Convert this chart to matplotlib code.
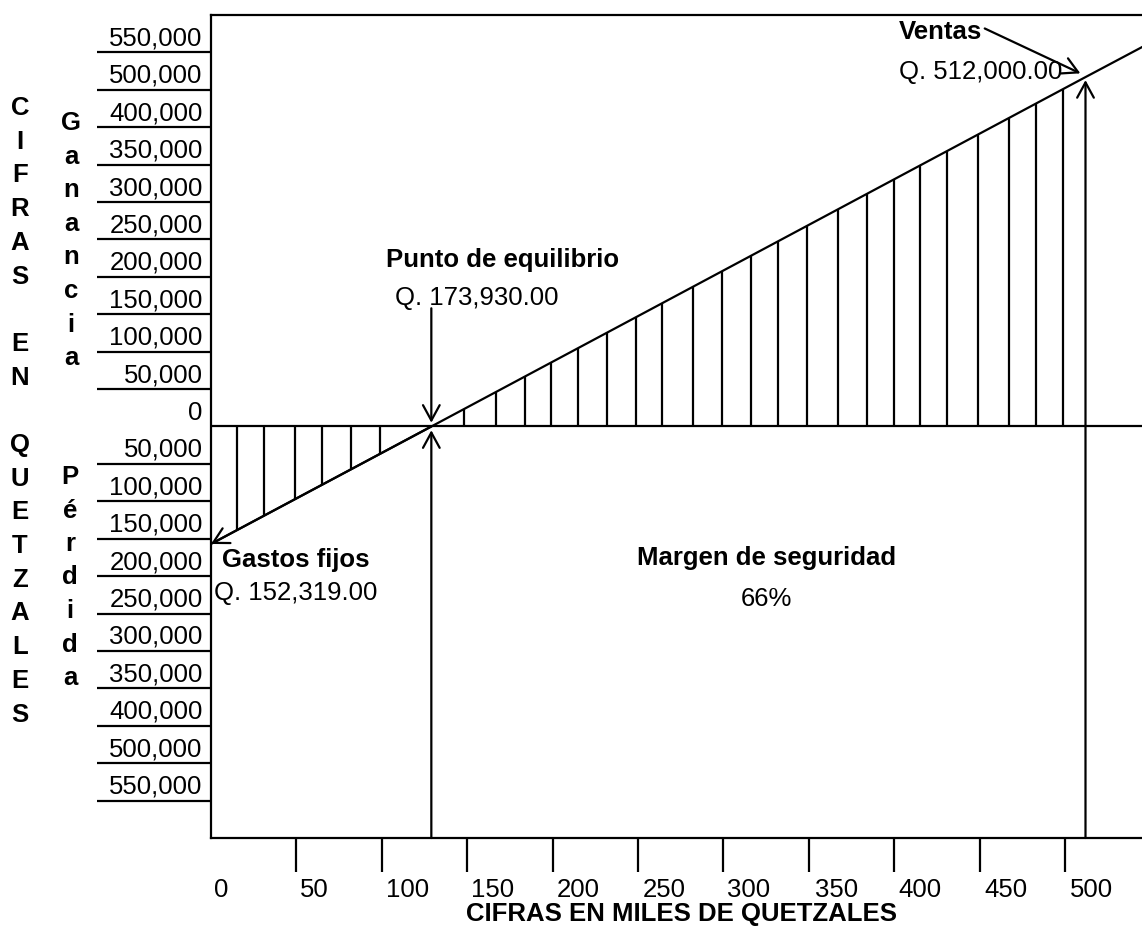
import matplotlib.pyplot as plt
import numpy as np

plt.rcParams['font.family'] = ['Liberation Sans', 'DejaVu Sans']

W, H = 1142, 932

# sales / result line (x in miles de quetzales as drawn, y in miles)
line_x = [0, 129, 512, 545]
line_y = [-157, 0, 467, 507]
punto_x = 129
ventas_x = 512

# vertical hatch positions
perdida_hatch = [15, 31, 49, 65, 82, 99]
ganancia_hatch = [148, 167, 184, 199, 215, 232, 249, 264, 282, 299, 316,
                  332, 349, 367, 384, 400, 415, 431, 449, 467, 483, 499]

x_ticks = [50, 100, 150, 200, 250, 300, 350, 400, 450, 500]
x_labels = ['0', '50', '100', '150', '200', '250', '300', '350', '400', '450', '500']
x_label_pos = [6, 60.5, 115, 165, 215, 265.5, 315, 366, 415, 465.5, 515.5]

y_lines = [-500, -450, -400, -350, -300, -250, -200, -150, -100, -50,
           50, 100, 150, 200, 250, 300, 350, 400, 450, 500]
y_up_pos = [25, 75, 125, 175, 225, 275, 325, 375, 425, 475, 525]
y_up_labels = ['0', '50,000', '100,000', '150,000', '200,000', '250,000',
               '300,000', '350,000', '400,000', '500,000', '550,000']
y_down_pos = [-25, -75, -125, -175, -225, -275, -325, -375, -425, -475]
y_down_labels = ['50,000', '100,000', '150,000', '200,000', '250,000',
                 '300,000', '350,000', '400,000', '500,000', '550,000']

FS = 18.5
LW = 1.6

fig = plt.figure(figsize=(W / 100, H / 100), dpi=100)
left = 211 / W
ax = fig.add_axes([left, 1 - 838 / H, 1 - left, (838 - 15) / H])
ax.set_xlim(0, (W - 211) / 1.708)
ax.set_ylim(-550, 550)
for s in ['left', 'top', 'bottom']:
    ax.spines[s].set_linewidth(LW)
ax.spines['right'].set_visible(False)

# x ticks: long marks as minor ticks, labels as major ticks
ax.set_xticks(x_ticks, minor=True)
ax.set_xticks(x_label_pos, x_labels)
ax.tick_params(axis='x', which='minor', length=24.5, width=LW, direction='out')
ax.tick_params(axis='x', which='major', length=0, pad=29, labelsize=FS)

y_pos = [p - 3 for p in y_up_pos + y_down_pos]
ax.set_yticks(y_lines, minor=True)
ax.set_yticks(y_pos, y_up_labels + y_down_labels)
ax.tick_params(axis='y', which='minor', length=82, width=LW, direction='out')
ax.tick_params(axis='y', which='major', length=0, pad=6, labelsize=FS)

ax.axhline(0, color='black', lw=LW)

# main line with arrow at gastos fijos end
ax.plot(line_x, line_y, color='black', lw=LW)
arrow = dict(arrowstyle='->,head_length=0.55,head_width=0.3', lw=LW,
             color='black', shrinkA=0, shrinkB=0, mutation_scale=20)
ax.annotate('', xy=(line_x[0], line_y[0]), xytext=(line_x[1], line_y[1]),
            arrowprops=arrow, annotation_clip=False)

# hatching
top_p = np.interp(perdida_hatch, line_x, line_y)
ax.vlines(perdida_hatch, top_p, 0, color='black', lw=LW)
top_g = np.interp(ganancia_hatch, line_x, line_y)
ax.vlines(ganancia_hatch, 0, top_g, color='black', lw=LW)

# punto de equilibrio
ax.annotate('', xy=(punto_x, 5), xytext=(punto_x, 158), arrowprops=arrow)
ax.annotate('', xy=(punto_x, -5), xytext=(punto_x, -550), arrowprops=arrow)
ax.text(102.5, 223, 'Punto de equilibrio', fontsize=FS, fontweight='bold',
        ha='left', va='center')
ax.text(108, 172, 'Q. 173,930.00', fontsize=FS, ha='left', va='center')

# ventas
v_y = np.interp(ventas_x, line_x, line_y)
ax.annotate('', xy=(ventas_x, v_y - 4), xytext=(ventas_x, -550), arrowprops=arrow)
ax.annotate('', xy=(509, 472), xytext=(453, 532), arrowprops=arrow)
ax.text(403, 527, 'Ventas', fontsize=FS, fontweight='bold', ha='left', va='center')
ax.text(403, 474, 'Q. 512,000.00', fontsize=FS, ha='left', va='center')

# gastos fijos
ax.text(6.5, -178, 'Gastos fijos', fontsize=FS, fontweight='bold',
        ha='left', va='center')
ax.text(2, -223, 'Q. 152,319.00', fontsize=FS, ha='left', va='center')

# margen de seguridad
ax.text(325, -176, 'Margen de seguridad', fontsize=FS, fontweight='bold',
        ha='center', va='center')
ax.text(325, -230, '66%', fontsize=FS, ha='center', va='center')

fig.text(682 / W, 1 - 914 / H, 'CIFRAS EN MILES DE QUETZALES', fontsize=FS,
         fontweight='bold', ha='center', va='center')

# vertical stacked titles
def stack(word, x, y0, step):
    for i, ch in enumerate(word):
        if ch != ' ':
            fig.text(x / W, 1 - (y0 + i * step) / H, ch, fontsize=FS,
                     fontweight='bold', ha='center', va='center')

stack('CIFRAS EN QUETZALES', 20, 108, 33.7)
stack('Ganancia', 71, 123, 33.6)
stack('Pérdida', 70, 477, 33.5)

fig.savefig('out.png', dpi=100)
